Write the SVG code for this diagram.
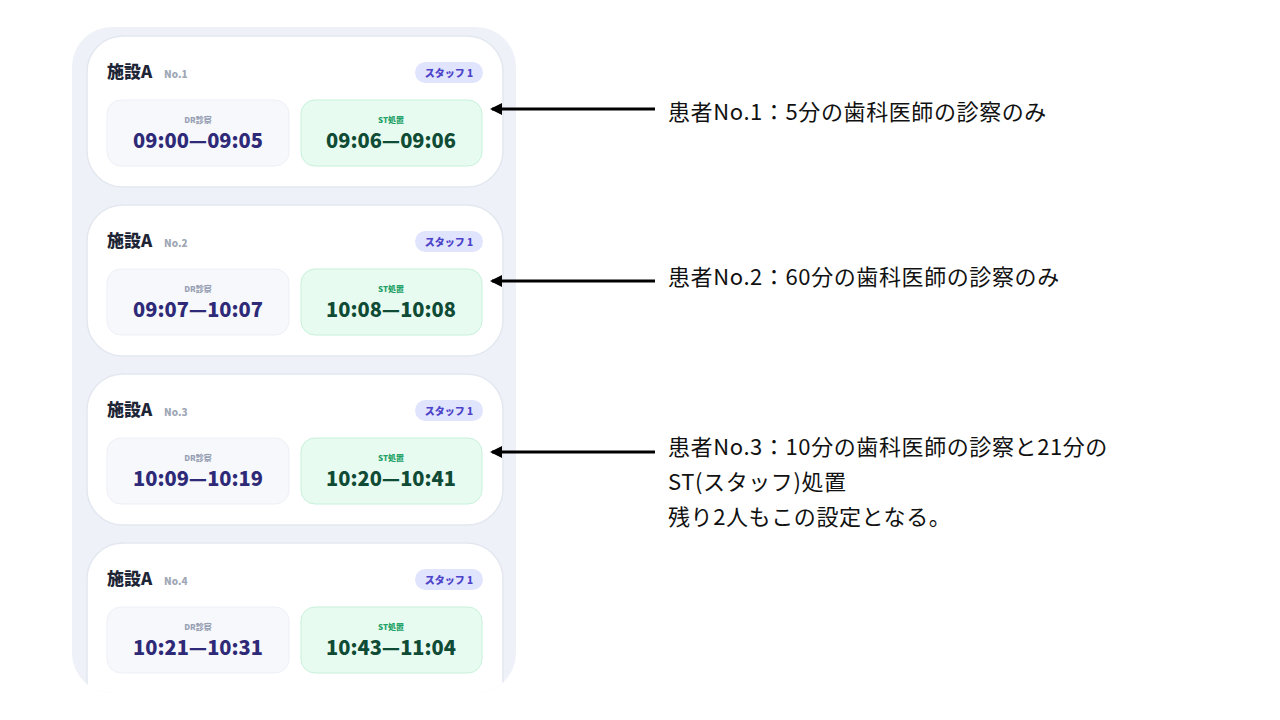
<svg xmlns="http://www.w3.org/2000/svg" width="1280" height="720" viewBox="0 0 1280 720">
<style>
.t{font-family:"Noto Sans CJK JP","Noto Sans",sans-serif;}
.card{fill:#fff;stroke:#e3e7ef;stroke-width:1.5}
.dr{fill:#f7f8fb;stroke:#eceff5}
.st{fill:#e8fbf1;stroke:#c6f1da}
.ttl{font-size:17px;font-weight:900;fill:#1e2536}
.no{font-size:10px;font-weight:900;fill:#a0a7b5}
.bd{fill:#e1e4fd}
.bdt{font-size:10px;font-weight:900;fill:#4c43c9}
.lbl{font-size:8px;font-weight:900;text-anchor:middle}
.tm{font-size:20px;font-weight:900;text-anchor:middle}
.note{font-size:22px;fill:#111;letter-spacing:0.6px}
</style>
<defs>
<marker id="ah" markerWidth="14" markerHeight="14" refX="10" refY="7" orient="auto" markerUnits="userSpaceOnUse"><path d="M0,1 L12,7 L0,13 Z" fill="#000"/></marker>
<clipPath id="cp"><rect x="72" y="27" width="444" height="666" rx="40"/></clipPath>
</defs>
<rect x="72" y="27" width="444" height="666" rx="40" fill="#eef1f7"/>
<g clip-path="url(#cp)" class="t">
<g id="card1"><rect class="card" x="87" y="36" width="416" height="151" rx="36"/>
<text class="ttl" x="107" y="78">施設A</text><text class="no" x="164" y="78">No.1</text>
<rect class="bd" x="415" y="62" width="68" height="21" rx="10.5"/><text class="bdt" x="449" y="77" text-anchor="middle">スタッフ 1</text>
<rect class="dr" x="107" y="100" width="182" height="66" rx="14"/><text class="lbl" x="198" y="123" fill="#98a1b4">DR診察</text><text class="tm" x="198" y="148" fill="#2e2a78">09:00—09:05</text>
<rect class="st" x="301" y="100" width="181" height="66" rx="14"/><text class="lbl" x="391" y="123" fill="#1fa267">ST処置</text><text class="tm" x="391" y="148" fill="#0f4b35">09:06—09:06</text></g>
<g id="card2"><rect class="card" x="87" y="205" width="416" height="151" rx="36"/>
<text class="ttl" x="107" y="247">施設A</text><text class="no" x="164" y="247">No.2</text>
<rect class="bd" x="415" y="231" width="68" height="21" rx="10.5"/><text class="bdt" x="449" y="246" text-anchor="middle">スタッフ 1</text>
<rect class="dr" x="107" y="269" width="182" height="66" rx="14"/><text class="lbl" x="198" y="292" fill="#98a1b4">DR診察</text><text class="tm" x="198" y="317" fill="#2e2a78">09:07—10:07</text>
<rect class="st" x="301" y="269" width="181" height="66" rx="14"/><text class="lbl" x="391" y="292" fill="#1fa267">ST処置</text><text class="tm" x="391" y="317" fill="#0f4b35">10:08—10:08</text></g>
<g id="card3"><rect class="card" x="87" y="374" width="416" height="151" rx="36"/>
<text class="ttl" x="107" y="416">施設A</text><text class="no" x="164" y="416">No.3</text>
<rect class="bd" x="415" y="400" width="68" height="21" rx="10.5"/><text class="bdt" x="449" y="415" text-anchor="middle">スタッフ 1</text>
<rect class="dr" x="107" y="438" width="182" height="66" rx="14"/><text class="lbl" x="198" y="461" fill="#98a1b4">DR診察</text><text class="tm" x="198" y="486" fill="#2e2a78">10:09—10:19</text>
<rect class="st" x="301" y="438" width="181" height="66" rx="14"/><text class="lbl" x="391" y="461" fill="#1fa267">ST処置</text><text class="tm" x="391" y="486" fill="#0f4b35">10:20—10:41</text></g>
<g id="card4"><rect class="card" x="87" y="543" width="416" height="180" rx="36"/>
<text class="ttl" x="107" y="585">施設A</text><text class="no" x="164" y="585">No.4</text>
<rect class="bd" x="415" y="569" width="68" height="21" rx="10.5"/><text class="bdt" x="449" y="584" text-anchor="middle">スタッフ 1</text>
<rect class="dr" x="107" y="607" width="182" height="66" rx="14"/><text class="lbl" x="198" y="630" fill="#98a1b4">DR診察</text><text class="tm" x="198" y="655" fill="#2e2a78">10:21—10:31</text>
<rect class="st" x="301" y="607" width="181" height="66" rx="14"/><text class="lbl" x="391" y="630" fill="#1fa267">ST処置</text><text class="tm" x="391" y="655" fill="#0f4b35">10:43—11:04</text></g>
</g>
<g id="connectors" stroke="#000" stroke-width="3">
<line x1="655" y1="109" x2="492" y2="109" marker-end="url(#ah)"/>
<line x1="655" y1="281" x2="492" y2="281" marker-end="url(#ah)"/>
<line x1="655" y1="452" x2="492" y2="452" marker-end="url(#ah)"/>
</g>
<g class="t">
<text class="note" x="668" y="120">患者No.1：5分の歯科医師の診察のみ</text>
<text class="note" x="668" y="285">患者No.2：60分の歯科医師の診察のみ</text>
<text class="note" x="668" y="455">患者No.3：10分の歯科医師の診察と21分の</text>
<text class="note" x="668" y="490">ST(スタッフ)処置</text>
<text class="note" x="668" y="525">残り2人もこの設定となる。</text>
</g>
</svg>
